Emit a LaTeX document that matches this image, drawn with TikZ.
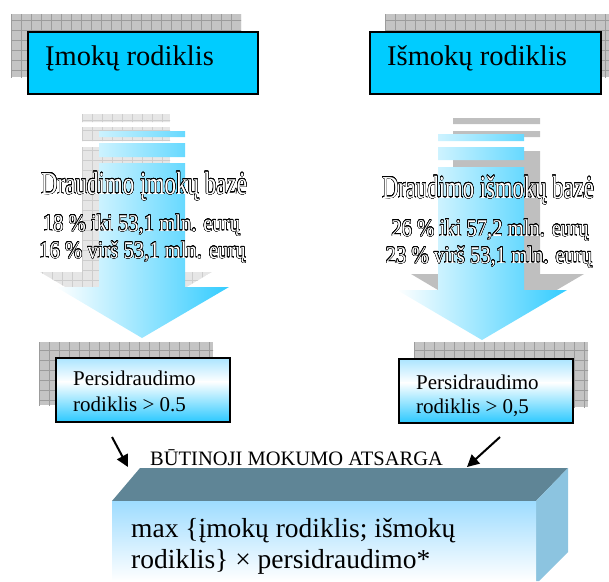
\documentclass[tikz,border=0pt]{standalone}
\usepackage{fontspec}
\setmainfont{Liberation Serif}
\usepackage{graphicx}
\usepackage[copies]{contour}
\contourlength{0.45pt}
\contournumber{24}
\usetikzlibrary{arrows.meta}
\definecolor{boxcyan}{HTML}{00CCFF}
\definecolor{arrowblue}{HTML}{33CCFF}
\definecolor{ptop}{HTML}{A8E4FF}
\definecolor{pbot}{HTML}{30CAFF}
\definecolor{gridA}{HTML}{C4C4C4}
\definecolor{gridAl}{HTML}{9C9C9C}
\definecolor{gridB}{HTML}{E6E6E6}
\definecolor{gridBl}{HTML}{CDCDCD}
\definecolor{shadowgrey}{HTML}{BFBFBF}
\definecolor{topface}{HTML}{5F8596}
\definecolor{sideface}{HTML}{8CC4E0}
\definecolor{frontblue}{HTML}{9EDCFF}
\newcommand\gridpatch[4]{\begin{scope}\clip #1; \fill[#2] #1;
  \foreach \gx in {#4} {\draw[#3, line width=0.6pt] (\gx,0) -- (\gx,581);}
  \foreach \gy in {0,10,...,580} {\draw[#3, line width=0.6pt] (0,\gy) -- (609,\gy);}
  \end{scope}}
\begin{document}
\begin{tikzpicture}[x=1pt,y=-1pt,
  topbox/.style={draw=black, line width=2pt, fill=boxcyan, anchor=north west, minimum width=230, minimum height=62, inner sep=0},
  pbox/.style={draw=black, line width=2pt, anchor=north west, minimum width=174, minimum height=64, inner sep=0},
  ptopshade/.style={top color=ptop, bottom color=white},
  pbotshade/.style={top color=white, bottom color=pbot},
  toptext/.style={anchor=base west, inner sep=0, font=\fontsize{28.5}{34}\selectfont},
  ptext/.style={anchor=base west, inner sep=0, font=\fontsize{21}{25}\selectfont},
  outl/.style={anchor=base, inner sep=0, text=white},
  bigout/.style={outl, font=\fontsize{32}{38}\selectfont},
  smallout/.style={outl, font=\fontsize{24}{28}\selectfont},
  conn/.style={line width=2pt, -{Triangle[length=12pt,width=12pt]}},
]
\useasboundingbox (0,0) rectangle (609,581);

% top boxes with grid shadows
\gridpatch{(11,14) rectangle (241,77)}{gridA}{gridAl}{1,11,...,241}
\gridpatch{(385,14) rectangle (609,77)}{gridA}{gridAl}{385,395,...,609}
\node[topbox] (imokbox) at (27,31) {};
\node[topbox, minimum width=231] (ismokbox) at (369,31) {};
\node[toptext] (imoktxt) at (45,65) {Įmokų rodiklis};
\node[toptext] (ismoktxt) at (387,65) {Išmokų rodiklis};

% left arrow shadow (grid)
\gridpatch{(82,114) rectangle (170,122) (82,127) rectangle (170,141) (82,147) -- (170,147) -- (170,272) -- (212,272) -- (126,323) -- (40,272) -- (82,272) -- cycle}{gridB}{gridBl}{2,12,...,212}
% right arrow shadow (solid)
\fill[shadowgrey] (453,118) rectangle (540,124) (453,131) rectangle (540,137)
  (453,151) -- (540,151) -- (540,274) -- (584,274) -- (497,325) -- (411,274) -- (453,274) -- cycle;

% blue arrows
\shade[left color=white, right color=arrowblue] (99,131) rectangle (185,137) (99,143) rectangle (185,157)
  (99,163) -- (185,163) -- (185,287) -- (229,287) -- (142,338) -- (56,287) -- (99,287) -- cycle;
\shade[left color=white, right color=arrowblue] (438,134) rectangle (524,141) (438,147) rectangle (524,160)
  (438,167) -- (524,167) -- (524,290) -- (567,290) -- (482,340) -- (397,290) -- (438,290) -- cycle;

% outlined texts
\node[bigout] (lbase) at (144,194) {\scalebox{0.72}[1]{\contour{black}{Draudimo įmokų bazė}}};
\node[smallout] (lrate1) at (141.5,231) {\scalebox{0.86}[1]{\contour{black}{18 \% iki 53,1 mln. eurų}}};
\node[smallout] (lrate2) at (142.5,258) {\scalebox{0.86}[1]{\contour{black}{16 \% virš 53,1 mln. eurų}}};
\node[bigout] (rbase) at (488,198) {\scalebox{0.71}[1]{\contour{black}{Draudimo išmokų bazė}}};
\node[smallout] (rrate1) at (490,236) {\scalebox{0.86}[1]{\contour{black}{26 \% iki 57,2 mln. eurų}}};
\node[smallout] (rrate2) at (489,263) {\scalebox{0.86}[1]{\contour{black}{23 \% virš 53,1 mln. eurų}}};

% persidraudimo boxes
\gridpatch{(39,342) rectangle (213,405)}{gridA}{gridAl}{39,49,...,213}
\gridpatch{(414,342) rectangle (588,407)}{gridA}{gridAl}{414,424,...,588}
\shade[ptopshade] (55,357) rectangle (229,382);
\shade[pbotshade] (55,381.5) rectangle (229,421);
\shade[ptopshade] (398,358) rectangle (572,383);
\shade[pbotshade] (398,382.5) rectangle (572,422);
\node[pbox] (lpbox) at (55,357) {};
\node[pbox] (rpbox) at (398,358) {};
\node[ptext] (lp1) at (73,385) {Persidraudimo};
\node[ptext] (lp2) at (73,411) {rodiklis > 0.5};
\node[ptext] (rp1) at (416,389) {Persidraudimo};
\node[ptext] (rp2) at (416,413) {rodiklis > 0,5};

% connectors
\coordinate (la0) at (112,437);
\coordinate (la1) at (128,467);
\coordinate (ra0) at (500,437);
\coordinate (ra1) at (467,467);
\draw[conn] (la0) -- (la1);
\draw[conn] (ra0) -- (ra1);

\node[anchor=base west, inner sep=0, font=\fontsize{20.5}{24}\selectfont] (bma) at (150,465) {BŪTINOJI MOKUMO ATSARGA};

% 3D block
\fill[topface] (112,501) -- (140,468) -- (568,468) -- (536,501) -- cycle;
\fill[sideface] (536,501) -- (568,468) -- (568,552) -- (539,581) -- (536,581) -- cycle;
\shade[top color=frontblue, bottom color=white] (112,501) rectangle (536,581);
\node[anchor=base west, inner sep=0, font=\fontsize{27.5}{32}\selectfont] (f1) at (131,537) {max \{įmokų rodiklis; išmokų};
\node[anchor=base west, inner sep=0, font=\fontsize{27.5}{32}\selectfont] (f2) at (131,568) {rodiklis\} × persidraudimo*};
\end{tikzpicture}
\end{document}
